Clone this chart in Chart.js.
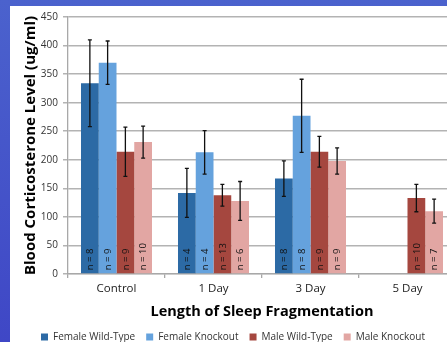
<!DOCTYPE html>
<html>
<head>
<meta charset="utf-8">
<script src="https://cdn.jsdelivr.net/npm/chart.js@4"></script>
<style>
    html, body { margin: 0; padding: 0; overflow: hidden; }
    body { width: 447px; height: 342px; background: linear-gradient(180deg, #4b62cd 0%, #3f47c6 100%); position: relative; }
    #panel { position: absolute; left: 10px; top: 6px; width: 450px; height: 346px; background: #fff; }
</style>
</head>
<body>
<div id="panel"><canvas id="chart" width="450" height="346"></canvas></div>
<script>
const categories = ['Control', '1 Day', '3 Day', '5 Day'];
const seriesNames = ['Female Wild-Type', 'Female Knockout', 'Male Wild-Type', 'Male Knockout'];
const seriesColors = ['#2c6aa5', '#65a2dd', '#a5473f', '#e2a6a3'];

const femaleWT = [334, 142, 167, null];
const femaleKO = [370, 213, 277, null];
const maleWT = [214, 138, 214, 133];
const maleKO = [231, 128, 198, 110];

const femaleWTErr = [76, 43, 31, null];
const femaleKOErr = [38, 38, 64, null];
const maleWTErr = [43, 19, 27, 24];
const maleKOErr = [28, 34, 23, 21];

const femaleWTN = [8, 4, 8, null];
const femaleKON = [9, 4, 8, null];
const maleWTN = [9, 13, 9, 10];
const maleKON = [10, 6, 9, 7];

const yTicks = [0, 50, 100, 150, 200, 250, 300, 350, 400, 450];

const values = [femaleWT, femaleKO, maleWT, maleKO];
const errors = [femaleWTErr, femaleKOErr, maleWTErr, maleKOErr];
const counts = [femaleWTN, femaleKON, maleWTN, maleKON];

const FONT = "'Open Sans', sans-serif";

// error bars and the rotated "n = x" labels
const barExtras = {
    id: 'barExtras',
    afterDatasetsDraw(chart) {
        const ctx = chart.ctx;
        const y = chart.scales.y;
        chart.data.datasets.forEach((ds, di) => {
            const meta = chart.getDatasetMeta(di);
            meta.data.forEach((bar, i) => {
                const v = ds.data[i];
                if (v === null) return;
                const e = errors[di][i];
                const top = y.getPixelForValue(v + e);
                const bot = y.getPixelForValue(v - e);
                ctx.save();
                ctx.strokeStyle = '#111';
                ctx.lineWidth = 1.3;
                ctx.beginPath();
                ctx.moveTo(bar.x, top);
                ctx.lineTo(bar.x, bot);
                ctx.moveTo(bar.x - 2, top);
                ctx.lineTo(bar.x + 2, top);
                ctx.moveTo(bar.x - 2, bot);
                ctx.lineTo(bar.x + 2, bot);
                ctx.stroke();

                ctx.translate(bar.x, bar.base - 3);
                ctx.rotate(-Math.PI / 2);
                ctx.fillStyle = '#111';
                ctx.font = '9.5px ' + FONT;
                ctx.textAlign = 'left';
                ctx.textBaseline = 'middle';
                ctx.fillText('n = ' + counts[di][i], 0, 0.5);
                ctx.restore();
            });
        });
    }
};

new Chart(document.getElementById('chart'), {
    type: 'bar',
    data: {
        labels: categories,
        datasets: seriesNames.map((name, i) => ({
            label: name,
            data: values[i],
            backgroundColor: seriesColors[i],
            borderWidth: 0,
            categoryPercentage: 0.732,
            barPercentage: 1.0
        }))
    },
    options: {
        responsive: false,
        animation: false,
        layout: { padding: { top: 10, right: 4, left: 0, bottom: 0 } },
        scales: {
            x: {
                grid: { display: true, drawOnChartArea: false, drawTicks: true, tickLength: 4, color: '#a8a8a8', lineWidth: 1.3 },
                border: { color: '#a8a8a8', width: 1.3 },
                ticks: { color: '#222', font: { family: FONT, size: 11.5 }, padding: 4 },
                title: { display: true, text: 'Length of Sleep Fragmentation', color: '#000', font: { family: FONT, size: 14.5, weight: 'bold' }, padding: { top: 0, bottom: 0 } },
                afterFit: s => { s.height = 47; }
            },
            y: {
                min: 0,
                max: 450,
                afterBuildTicks: s => { s.ticks = yTicks.map(v => ({ value: v })); },
                grid: { color: '#b3b3b3', lineWidth: 1.5, tickLength: 5 },
                border: { color: '#a8a8a8', width: 1.3 },
                ticks: { color: '#333', font: { family: FONT, size: 10 }, padding: 5 },
                title: { display: true, text: 'Blood Corticosterone Level (ug/ml)', color: '#000', font: { family: FONT, size: 15, weight: 'bold' }, padding: { top: 12, bottom: 0 } },
                afterFit: s => { s.width = 58; }
            }
        },
        plugins: {
            legend: {
                position: 'bottom',
                labels: { boxWidth: 7, boxHeight: 7, padding: 11, color: '#333', font: { family: FONT, size: 10 } }
            },
            tooltip: { enabled: false }
        }
    },
    plugins: [barExtras]
});
</script>
</body>
</html>
